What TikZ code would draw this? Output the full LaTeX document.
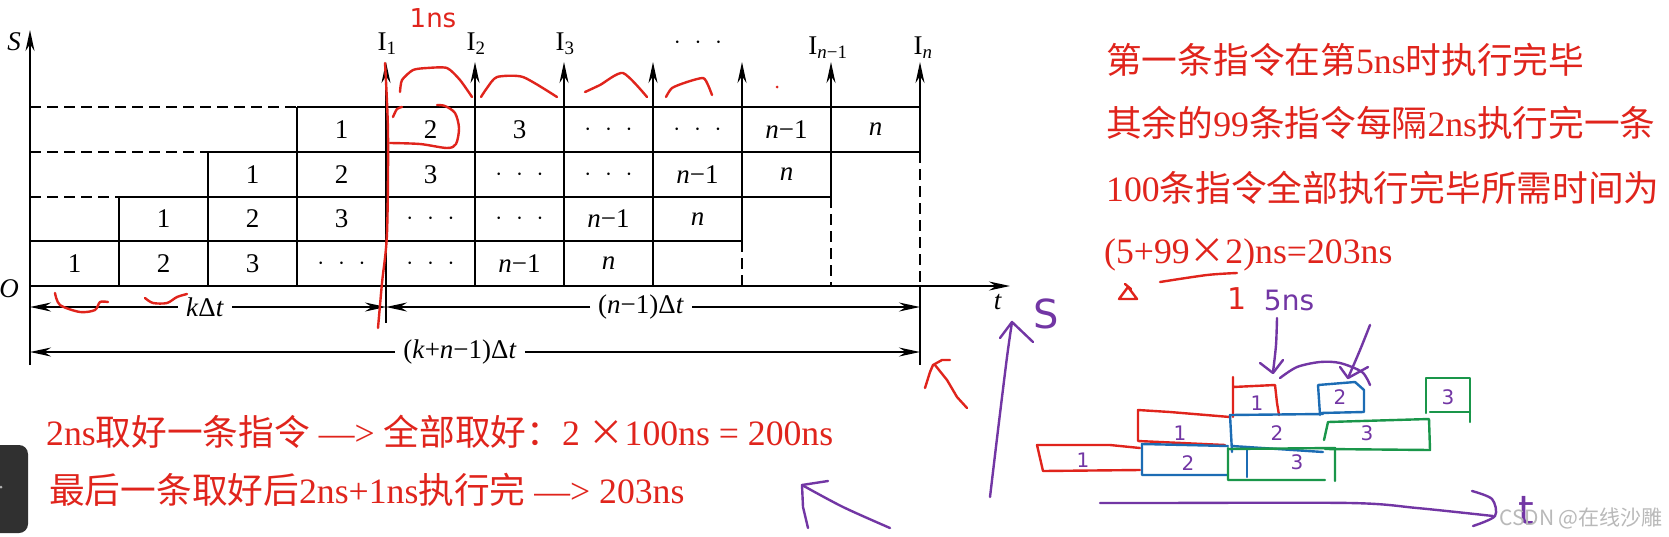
\documentclass[tikz,border=0pt]{standalone}
\usepackage{fontspec}
\setmainfont{Liberation Serif}
\newfontfamily\cjk{Noto Sans CJK SC}
\newfontfamily\hand{DejaVu Sans}
\usetikzlibrary{arrows.meta}

\definecolor{notered}{RGB}{224,36,28}
\definecolor{penpurple}{RGB}{114,54,164}
\definecolor{penblue}{RGB}{28,108,180}
\definecolor{pengreen}{RGB}{26,150,74}
\definecolor{tabgray}{RGB}{48,48,48}

\tikzset{
  grid line/.style={line width=1.7pt},
  dash line/.style={line width=1.7pt, dash pattern=on 11pt off 6pt},
  up arrow/.style={line width=1.7pt, -{Stealth[length=21pt,width=9pt]}},
  cell/.style={font=\fontsize{27}{29}\selectfont, inner sep=0pt},
  dimlabel/.style={cell, inner xsep=8pt},
  note/.style={text=notered, font=\fontsize{35.7}{40}\selectfont, inner sep=0pt, anchor=west},
  red pen/.style={draw=notered, line width=2.4pt, line cap=round, line join=round},
  purple pen/.style={draw=penpurple, line width=2.4pt, line cap=round, line join=round},
  blue pen/.style={draw=penblue, line width=2.4pt, line cap=round, line join=round},
  green pen/.style={draw=pengreen, line width=2.4pt, line cap=round, line join=round},
  scrawl/.style={inner sep=0pt, font=\hand\fontsize{#1}{#1}\selectfont},
}
\newcommand\cdotsbig{$\cdot\mkern6mu\cdot\mkern6mu\cdot$}

\begin{document}
\begin{tikzpicture}[x=1pt,y=-1pt]
\useasboundingbox (0,0) rectangle (1669,536);
\fill[white] (0,0) rectangle (1669,536);

% axes
\draw[up arrow] (30,365) -- (30,30);
\draw[up arrow] (30,286) -- (1010,286);
\node[cell] (lab-S) at (14,42) {\textit{S}};
\node[cell] (lab-O) at (9,289) {\textit{O}};
\node[cell] (lab-t) at (998,302) {\textit{t}};

% staircase of the four stages
\draw[grid line] (297,107) -- (920,107);
\draw[grid line] (208,152) -- (920,152);
\draw[grid line] (119,197) -- (831,197);
\draw[grid line] (30,241) -- (742,241);
\draw[dash line] (30,107) -- (297,107);
\draw[dash line] (30,152) -- (208,152);
\draw[dash line] (30,197) -- (119,197);
\draw[grid line] (119,197) -- (119,286);
\draw[grid line] (208,152) -- (208,286);
\draw[grid line] (297,107) -- (297,286);

% instruction arrows
\foreach \x in {386,475,564,653}
  \draw[up arrow] (\x,286) -- (\x,62);
\draw[up arrow] (742,241) -- (742,62);
\draw[up arrow] (831,197) -- (831,62);
\draw[up arrow] (920,152) -- (920,62);
\draw[dash line] (742,241) -- (742,286);
\draw[dash line] (831,197) -- (831,286);
\draw[dash line] (920,152) -- (920,286);
\draw[grid line] (386,286) -- (386,323);
\draw[grid line] (920,286) -- (920,365);

\node[cell] (lab-I1) at (387,44) {I\textsubscript{1}};
\node[cell] (lab-I2) at (476,44) {I\textsubscript{2}};
\node[cell] (lab-I3) at (565,44) {I\textsubscript{3}};
\node[cell] (lab-dots) at (698,43) {\cdotsbig};
\node[cell] (lab-In1) at (828,48) {I\textsubscript{\textit{n}−1}};
\node[cell] (lab-In) at (923,48) {I\textsubscript{\textit{n}}};

% cell numbers
\foreach \r/\y in {0/263.5,1/219,2/174.5,3/129.5}
  \foreach \lab [count=\i from 0] in {1,2,3,\cdotsbig,\cdotsbig,\textit{n}−1,\textit{n}}
    \node[cell] (cell-\r-\i) at ({30+89*(\r+\i+0.5)},\y) {\lab};

% time spans
\coordinate (k-left) at (30,307);
\coordinate (k-right) at (386,307);
\coordinate (n-left) at (386,307);
\coordinate (n-right) at (920,307);
\coordinate (all-left) at (30,352);
\coordinate (all-right) at (920,352);
\node[dimlabel] (kdt) at (205,307) {\textit{k}Δ\textit{t}};
\node[dimlabel] (ndt) at (641,307) {(\textit{n}−1)Δ\textit{t}};
\node[dimlabel] (alldt) at (460,352) {(\textit{k}+\textit{n}−1)Δ\textit{t}};
\draw[up arrow] (kdt) -- (k-left);
\draw[up arrow] (kdt) -- (k-right);
\draw[up arrow] (ndt) -- (n-left);
\draw[up arrow] (ndt) -- (n-right);
\draw[up arrow] (alldt) -- (all-left);
\draw[up arrow] (alldt) -- (all-right);

% notes
\node[note] (note1) at (1106,60) {{\cjk 第一条指令在第}5ns{\cjk 时执行完毕}};
\node[note] (note2) at (1106,123) {{\cjk 其余的}99{\cjk 条指令每隔}2ns{\cjk 执行完一条}};
\node[note] (note3) at (1106,188) {100{\cjk 条指令全部执行完毕所需时间为}};
\node[note] (note4) at (1104,255) {(5+99{\cjk ×}2)ns=203ns};
\node[note] (fetch1) at (46,432) {2ns{\cjk 取好一条指令} —> {\cjk 全部取好：}2 {\cjk ×}100ns = 200ns};
\node[note] (fetch2) at (49,490) {{\cjk 最后一条取好后}2ns+1ns{\cjk 执行完} —> 203ns};

% red scribbles on the chart
\node[scrawl=26, text=notered] (pen-1ns) at (433,18) {1ns};
\draw[red pen] plot[smooth] coordinates {(385,63) (388,133) (387,233) (382,283) (378,328)};
\draw[red pen] plot[smooth] coordinates {(393,117) (397,109) (402,107)};
\draw[red pen] plot[smooth] coordinates {(390,143) (420,144) (447,148) (456,144) (459,128) (455,113) (445,106) (437,105)};
\draw[red pen] plot[smooth, tension=0.4] coordinates {(400,92) (402,80) (413,70) (427,68) (447,68) (460,80) (472,97)};
\draw[red pen] plot[smooth, tension=0.4] coordinates {(481,97) (487,88) (497,77) (523,77) (557,97)};
\draw[red pen] plot[smooth, tension=0.4] coordinates {(585,92) (600,85) (623,73) (647,97)};
\draw[red pen] plot[smooth, tension=0.4] coordinates {(666,97) (672,88) (687,82) (703,78) (708,85) (712,95)};
\fill[notered] (777,87) circle (1.5);
\draw[red pen] plot[smooth] coordinates {(55,293) (60,305) (80,312) (95,310) (100,302) (108,302)};
\draw[red pen] plot[smooth] coordinates {(145,298) (153,303) (167,303) (177,297) (187,294)};
\draw[red pen] (925,388) -- (930,372) -- (933,365) -- (942,360) -- (950,360);
\draw[red pen] (935,365) -- (947,380) -- (957,397) -- (967,408);

% red scribbles under the sum
\draw[red pen] (1125,284) -- (1131,289) (1119,299) -- (1128,287) -- (1137,299) -- cycle;
\draw[red pen] plot[smooth] coordinates {(1160,282) (1207,275) (1237,273)};
\node[scrawl=30, text=notered] (pen-one) at (1237,299) {1};

% purple axes and arrows
\node[scrawl=28, text=penpurple] (pen-5ns) at (1289,300) {5ns};
\node[scrawl=40, text=penpurple] (pen-S) at (1046,314) {S};
\node[scrawl=40, text=penpurple] (pen-t) at (1526,510) {t};
\draw[purple pen] plot[smooth] coordinates {(990,497) (998,430) (1007,357) (1012,322)};
\draw[purple pen] (1000,338) -- (1012,322) -- (1033,342);
\draw[purple pen] plot[smooth] coordinates {(890,528) (843,507) (802,485)};
\draw[purple pen] (828,481) -- (802,485) -- (803,507) -- (808,528);
\draw[purple pen] plot[smooth] coordinates {(1100,503) (1150,503) (1350,503) (1417,508) (1493,516)};
\draw[purple pen] plot[smooth] coordinates {(1472,491) (1492,499) (1495,516) (1473,526)};
\draw[purple pen] plot[smooth] coordinates {(1277,318) (1276,345) (1273,372)};
\draw[purple pen] (1260,363) -- (1273,373) -- (1283,360);
\draw[purple pen] plot[smooth] coordinates {(1280,378) (1297,367) (1320,362) (1340,363) (1362,372) (1370,385)};
\draw[purple pen] plot[smooth] coordinates {(1370,325) (1360,350) (1348,378)};
\draw[purple pen] (1340,367) -- (1348,378) -- (1368,367);

% hand-drawn pipeline
\draw[red pen] (1140,448) -- (1110,445) -- (1037,445) -- (1043,471) -- (1140,470);
\draw[red pen] (1230,417) -- (1170,412) -- (1138,410) -- (1138,441) -- (1225,445);
\draw[red pen] (1233,417) -- (1233,377) (1233,387) -- (1275,385) -- (1277,403) -- (1279,415);
\draw[blue pen] (1228,446) -- (1142,444) -- (1142,475) -- (1228,475);
\draw[blue pen] (1232,452) -- (1230,415) -- (1323,414) (1232,446) -- (1323,452);
\draw[blue pen] (1320,415) -- (1318,385) -- (1355,382) -- (1364,390) -- (1364,412) -- (1320,413);
\draw[blue pen] (1247,450) -- (1247,477);
\draw[green pen] (1228,448) -- (1228,480) -- (1325,480) (1228,449) -- (1335,448) -- (1335,481);
\draw[green pen] (1324,440) -- (1328,422) -- (1429,419) -- (1430,450) -- (1325,449);
\draw[green pen] (1426,413) -- (1426,378) -- (1470,378) -- (1470,422) (1430,412) -- (1470,412);
\foreach \x/\y/\d [count=\k] in {1083/460/1,1180/433/1,1257/403/1,1188/463/2,1277/433/2,1340/397/2,1297/462/3,1367/433/3,1448/397/3}
  \node[scrawl=20, text=penpurple] (box-\k) at (\x,\y) {\d};

% watermark and side tab
\node[font=\cjk\fontsize{21}{23}\selectfont, text=gray!55, inner sep=0pt, anchor=west] (mark) at (1499,518) {CSDN @在线沙雕};
\fill[tabgray, rounded corners=9pt] (-20,445) rectangle (28,533);
\fill[gray!60] (1,487) circle (1.5);
\end{tikzpicture}
\end{document}
